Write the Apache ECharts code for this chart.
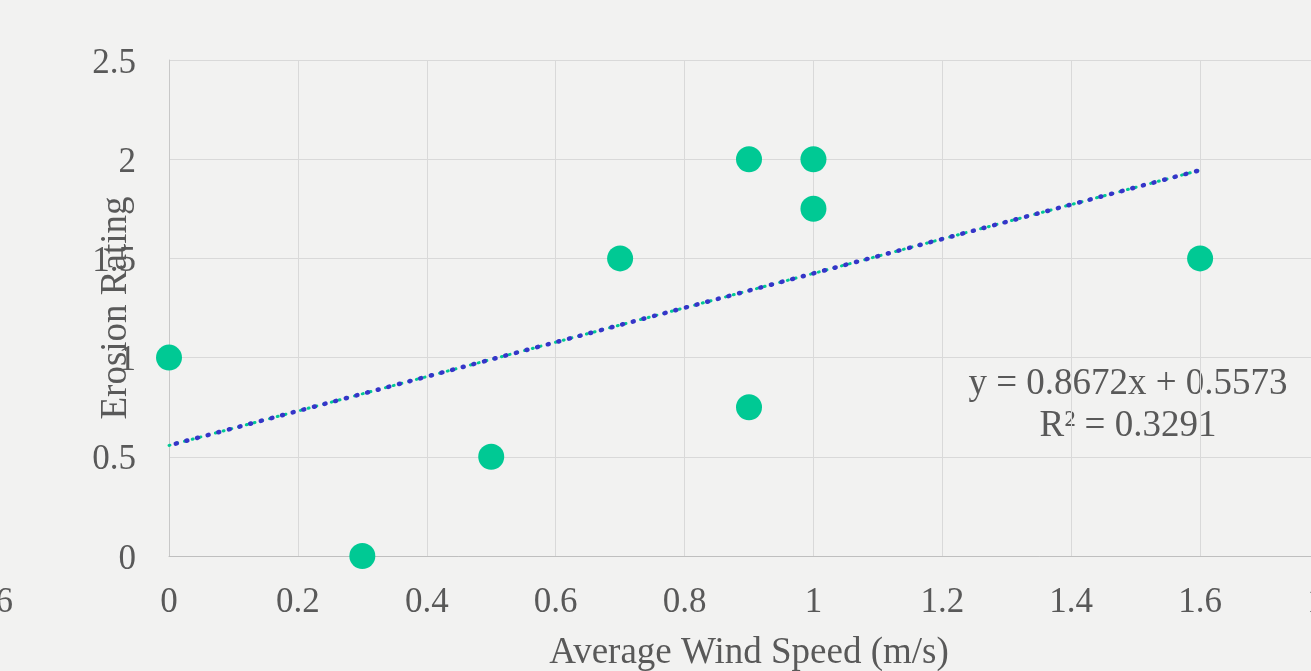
<!DOCTYPE html>
<html>
<head>
    <meta charset="utf-8">
    <title>Erosion vs Wind</title>
    <script src="https://cdn.jsdelivr.net/npm/echarts@6/dist/echarts.min.js"></script>
    <style>
        html, body { margin: 0; padding: 0; overflow: hidden; background: #f2f2f1; }
    </style>
</head>
<body>
<div id="main" style="width: 1400px; height: 671px;"></div>
<script type="text/javascript">
    // wind speed (m/s) vs erosion rating
    var windSpeed = [0, 0.3, 0.5, 0.7, 0.9, 0.9, 1, 1, 1.6];
    var erosion = [1, 0, 0.5, 1.5, 2, 0.75, 2, 1.75, 1.5];

    // linear trendline ends
    var trendX = [0, 1.6];
    var trendY = [0.5573, 1.9448];

    var equationText = ['y = 0.8672x + 0.5573', 'R² = 0.3291'];

    var points = [];
    for (var i = 0; i < windSpeed.length; i++) {
        points.push([windSpeed[i], erosion[i]]);
    }
    var trend = [];
    for (var j = 0; j < trendX.length; j++) {
        trend.push([trendX[j], trendY[j]]);
    }

    var font = '"Liberation Serif", "DejaVu Serif", serif';
    var textColor = '#595959';

    var myChart = echarts.init(document.getElementById('main'));

    var option = {
        backgroundColor: '#f2f2f1',
        animation: false,
        grid: {
            left: 169,
            right: 71,
            top: 60,
            bottom: 115,
            outerBoundsMode: 'none'
        },
        xAxis: {
            type: 'value',
            min: 0,
            max: 1.8,
            interval: 0.2,
            name: 'Average Wind Speed (m/s)',
            nameLocation: 'middle',
            nameGap: 79,
            nameTextStyle: { color: textColor, fontSize: 37, fontFamily: font },
            axisLine: { show: true, lineStyle: { color: '#bfbfbf', width: 1 } },
            axisTick: { show: false },
            axisLabel: {
                color: textColor, fontSize: 35, fontFamily: font, margin: 29,
                formatter: function (v) { return String(Math.round(v * 10) / 10); }
            },
            splitLine: { show: true, lineStyle: { color: '#d9d9d9', width: 1 } }
        },
        yAxis: {
            type: 'value',
            min: 0,
            max: 2.5,
            interval: 0.5,
            name: 'Erosion Rating',
            nameLocation: 'middle',
            nameGap: 34,
            nameMoveOverlap: false,
            nameTextStyle: { color: textColor, fontSize: 37, fontFamily: font },
            axisLine: { show: true, lineStyle: { color: '#c8c8c8', width: 1 } },
            axisTick: { show: false },
            axisLabel: {
                margin: 33,
                formatter: function (v) { return '{t|' + v + '}'; },
                rich: {
                    t: { color: textColor, fontSize: 35, fontFamily: font, padding: [7, 0, 0, 0] }
                }
            },
            splitLine: { show: true, lineStyle: { color: '#d9d9d9', width: 1 } }
        },
        series: [
            {
                type: 'line',
                data: trend,
                symbol: 'none',
                z: 3,
                lineStyle: { color: '#00c994', width: 3, type: [1, 7], cap: 'round' }
            },
            {
                type: 'line',
                data: trend,
                symbol: 'none',
                z: 4,
                lineStyle: { color: '#3535c8', width: 4.5, type: [1, 10], dashOffset: 4, cap: 'round' }
            },
            {
                type: 'scatter',
                data: points,
                symbolSize: 26,
                z: 5,
                itemStyle: { color: '#00c994', opacity: 1 }
            }
        ],
        graphic: [
            {
                type: 'text', x: 1128, y: 384,
                style: {
                    text: equationText[0], fill: textColor, fontSize: 37, fontFamily: font,
                    align: 'center', verticalAlign: 'middle'
                }
            },
            {
                type: 'text', x: 1128, y: 426,
                style: {
                    text: equationText[1], fill: textColor, fontSize: 37, fontFamily: font,
                    align: 'center', verticalAlign: 'middle'
                }
            },
            {
                type: 'text', x: 13, y: 603,
                style: {
                    text: '6', fill: textColor, fontSize: 35, fontFamily: font,
                    align: 'right', verticalAlign: 'middle'
                }
            }
        ]
    };

    myChart.setOption(option);
</script>
</body>
</html>
